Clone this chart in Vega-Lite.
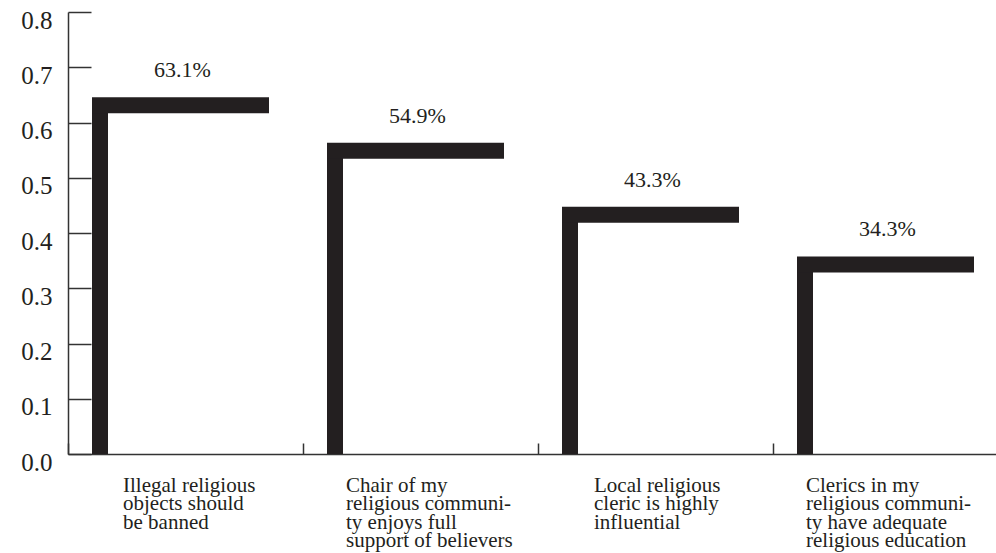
{
  "$schema": "https://vega.github.io/schema/vega-lite/v6.json",
  "width": 940,
  "height": 442,
  "autosize": "none",
  "padding": {"left": 68, "top": 12, "right": 0, "bottom": 99},
  "background": "white",
  "config": {"view": {"stroke": null}, "font": "Liberation Serif"},
  "data": {
    "values": [
      {"label": "Illegal religious|objects should|be banned", "value": 0.631},
      {"label": "Chair of my|religious communi-|ty enjoys full|support of believers", "value": 0.549},
      {"label": "Local religious|cleric is highly|influential", "value": 0.433},
      {"label": "Clerics in my|religious communi-|ty have adequate|religious education", "value": 0.343}
    ]
  },
  "encoding": {
    "x": {
      "field": "label",
      "type": "nominal",
      "sort": null,
      "scale": {"paddingInner": 0, "paddingOuter": 0},
      "axis": {
        "title": null,
        "bandPosition": 0,
        "tickSize": -11,
        "tickColor": "#333333",
        "tickWidth": 1.5,
        "domainColor": "#333333",
        "domainWidth": 1.5,
        "labelAngle": 0,
        "labelAlign": "left",
        "labelBaseline": "top",
        "labelPadding": 31,
        "labelFontSize": 21,
        "labelLineHeight": 18.5,
        "labelColor": "#231f20",
        "labelFont": "Liberation Serif",
        "labelExpr": "split(datum.value, '|')",
        "labelLimit": 0,
        "labelOverlap": false,
        "labelBound": false,
        "labelOffset": {
          "condition": [
            {"test": "indexof(datum.value, 'Chair') == 0", "value": -74.5},
            {"test": "indexof(datum.value, 'Local') == 0", "value": -61.5},
            {"test": "indexof(datum.value, 'Clerics') == 0", "value": -84.5}
          ],
          "value": -62.5
        }
      }
    },
    "y": {
      "field": "value",
      "type": "quantitative",
      "scale": {"domain": [0, 0.8]},
      "axis": {
        "title": null,
        "values": [0, 0.1, 0.2, 0.3, 0.4, 0.5, 0.6, 0.7, 0.8],
        "format": ".1f",
        "grid": false,
        "tickSize": -23,
        "tickColor": "#333333",
        "tickWidth": 1.5,
        "domainColor": "#333333",
        "domainWidth": 1.5,
        "labelFontSize": 25,
        "labelPadding": 39,
        "labelBaseline": "alphabetic",
        "labelOffset": 16,
        "labelColor": "#231f20",
        "labelFont": "Liberation Serif"
      }
    }
  },
  "layer": [
    {"mark": {"type": "bar", "width": 16, "xOffset": -85.5, "color": "#231f20"}},
    {"mark": {"type": "tick", "thickness": 16, "size": 177, "xOffset": -5, "color": "#231f20", "opacity": 1}},
    {
      "mark": {"type": "text", "dy": -28, "baseline": "alphabetic", "xOffset": -3, "fontSize": 22, "color": "#231f20", "font": "Liberation Serif"},
      "encoding": {"text": {"field": "value", "type": "quantitative", "format": ".1%"}}
    }
  ]
}
